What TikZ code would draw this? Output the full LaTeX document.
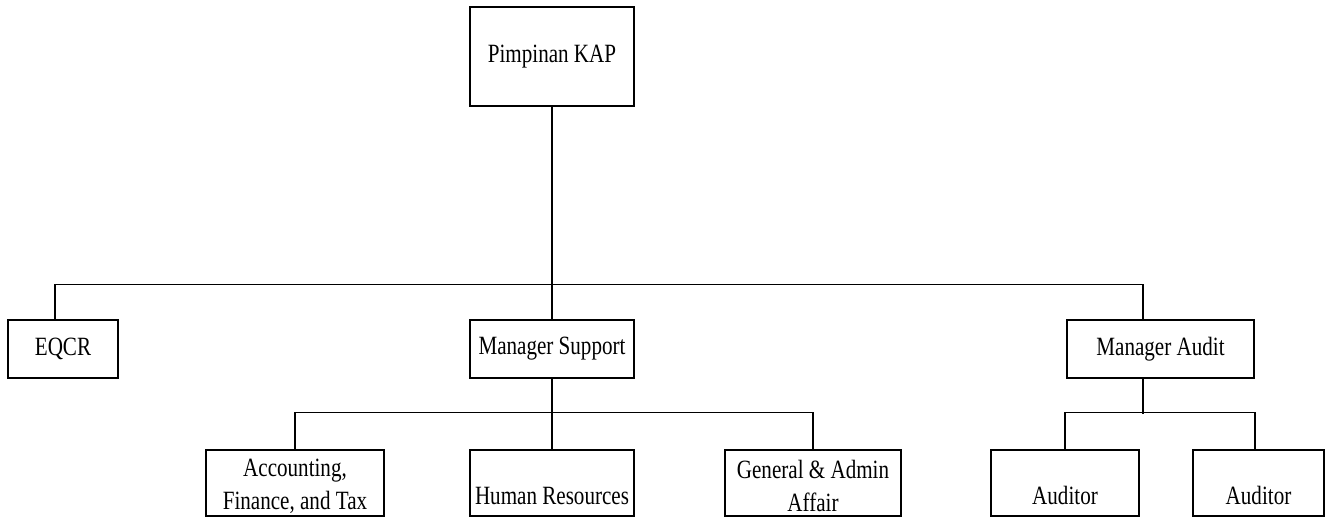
\documentclass[tikz,border=0pt]{standalone}
\usepackage{fontspec}
\setmainfont{Liberation Serif}[FakeStretch=0.8]
\begin{document}
\begin{tikzpicture}[x=0.02cm, y=-0.02cm, line width=0.8pt,
  box/.style={draw, inner sep=0pt, font=\fontsize{15}{19.5}\selectfont},
  txt/.style={inner sep=0pt, align=center, font=\fontsize{15}{19}\selectfont}]
\useasboundingbox (0,0) rectangle (1331,518);

\node[box, minimum width=3.28cm, minimum height=1.98cm] (P) at (552,56.5) {Pimpinan KAP};
\node[box, minimum width=2.2cm, minimum height=1.16cm] (E) at (63,349) {EQCR};
\node[box, minimum width=3.28cm, minimum height=1.16cm] (MS) at (552,349) {Manager Support};
\node[box, minimum width=3.74cm, minimum height=1.16cm] (MA) at (1160.5,349) {Manager Audit};

\node[box, minimum width=3.56cm, minimum height=1.32cm] (AFT) at (295,483) {};
\node[box, minimum width=3.28cm, minimum height=1.32cm] (HR) at (552,483) {};
\node[box, minimum width=3.52cm, minimum height=1.32cm] (GA) at (813,483) {};
\node[box, minimum width=2.96cm, minimum height=1.32cm] (A1) at (1065,483) {};
\node[box, minimum width=2.62cm, minimum height=1.32cm] (A2) at (1258.5,483) {};

\node[txt] (AFTt) at (295,486) {Accounting,\\Finance, and Tax};
\node[txt, anchor=base] (HRt) at (552,504) {Human Resources};
\node[txt] (GAt) at (813,486) {General \& Admin\\Affair};
\node[txt, anchor=base] (A1t) at (1065,504) {Auditor};
\node[txt, anchor=base] (A2t) at (1258.5,504) {Auditor};

\draw (P) -- (MS);
\draw ([xshift=-0.16cm]E.north) -- ++(0,-35) -| ([xshift=-0.35cm]MA.north);

\draw (MS) -- (HR);
\draw (AFT.north) -- ++(0,-37) -| (GA.north);

\draw ([xshift=-0.35cm]MA.south) -- ++(0,35);
\draw (A1.north) -- ++(0,-37) -| ([xshift=-0.07cm]A2.north);
\end{tikzpicture}
\end{document}
